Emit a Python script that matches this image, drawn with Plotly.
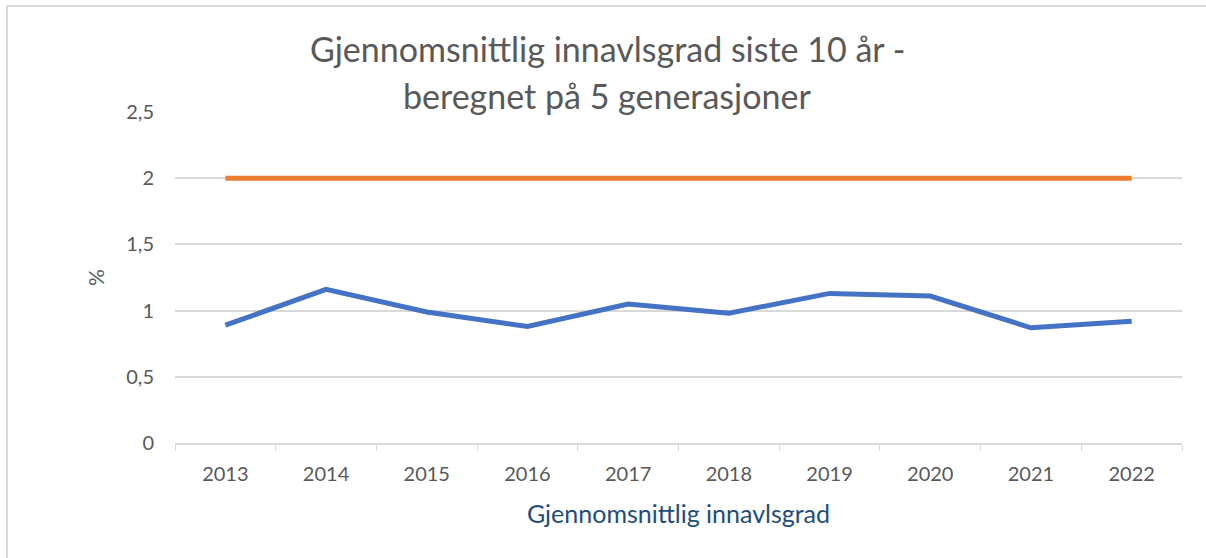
import plotly.graph_objects as go

years = ["2013", "2014", "2015", "2016", "2017", "2018", "2019", "2020", "2021", "2022"]
innavl = [0.89, 1.16, 0.99, 0.88, 1.05, 0.98, 1.13, 1.11, 0.87, 0.92]
grense = [2, 2, 2, 2, 2, 2, 2, 2, 2, 2]
y_ticks = [0, 0.5, 1, 1.5, 2, 2.5]
y_ticktext = ["0", "0,5", "1", "1,5", "2", "2,5"]

W, H = 1206, 558
L, R, T, B = 175, 24, 112, 115
pw, ph = W - L - R, H - T - B

fig = go.Figure()
fig.add_trace(go.Scatter(x=years, y=innavl, mode="lines",
                         line=dict(color="#4472C4", width=5),
                         name="Gjennomsnittlig innavlsgrad"))
fig.add_trace(go.Scatter(x=years, y=grense, mode="lines",
                         line=dict(color="#ED7D31", width=5),
                         name="Grense"))

font = "Lato"
fig.update_layout(
    width=W, height=H,
    margin=dict(l=L, r=R, t=T, b=B),
    paper_bgcolor="white", plot_bgcolor="white",
    showlegend=False,
    separators=", ",
    font=dict(family=font, color="#595959", size=20),
)
fig.update_xaxes(
    type="category", range=[-0.5, len(years) - 0.5],
    tickson="boundaries", ticks="outside", ticklen=6, tickcolor="#D9D9D9",
    showline=True, linecolor="#D9D9D9", linewidth=1.5,
    showgrid=False, ticklabelstandoff=12,
    tickfont=dict(size=20, color="#595959"),
    title=dict(text="Gjennomsnittlig innavlsgrad", font=dict(size=25, color="#1F4E79"), standoff=22),
)
fig.update_yaxes(
    range=[0, 2.5], tickvals=y_ticks, ticktext=y_ticktext,
    showgrid=True, gridcolor="#D9D9D9", gridwidth=1.5,
    zeroline=False, ticks="", ticklabelstandoff=20,
    tickfont=dict(size=20, color="#595959"),
    title=dict(text="%", font=dict(size=21, color="#595959"), standoff=15),
)

# title (two lines)
fig.add_annotation(text="Gjennomsnittlig innavlsgrad siste 10 år -", xref="paper", yref="paper",
                   x=(607 - L) / pw, y=1 + (T - 49) / ph, showarrow=False,
                   font=dict(size=34, color="#595959", family=font), xanchor="center", yanchor="middle")
fig.add_annotation(text="beregnet på 5 generasjoner", xref="paper", yref="paper",
                   x=(607 - L) / pw, y=1 + (T - 95) / ph, showarrow=False,
                   font=dict(size=34, color="#595959", family=font), xanchor="center", yanchor="middle")

# chart frame (left and top border)
x0 = (7 - L) / pw
y0 = 1 + (T - 6) / ph
fig.add_shape(type="line", xref="paper", yref="paper", x0=x0, x1=x0, y0=-(B + 5) / ph, y1=y0,
              line=dict(color="#D9D9D9", width=2))
fig.add_shape(type="line", xref="paper", yref="paper", x0=x0, x1=(W - L + 5) / pw, y0=y0, y1=y0,
              line=dict(color="#D9D9D9", width=2))

fig.write_html("out.html", config={"displayModeBar": False},
               post_script="document.body.style.margin='0';document.body.style.overflow='hidden';")
